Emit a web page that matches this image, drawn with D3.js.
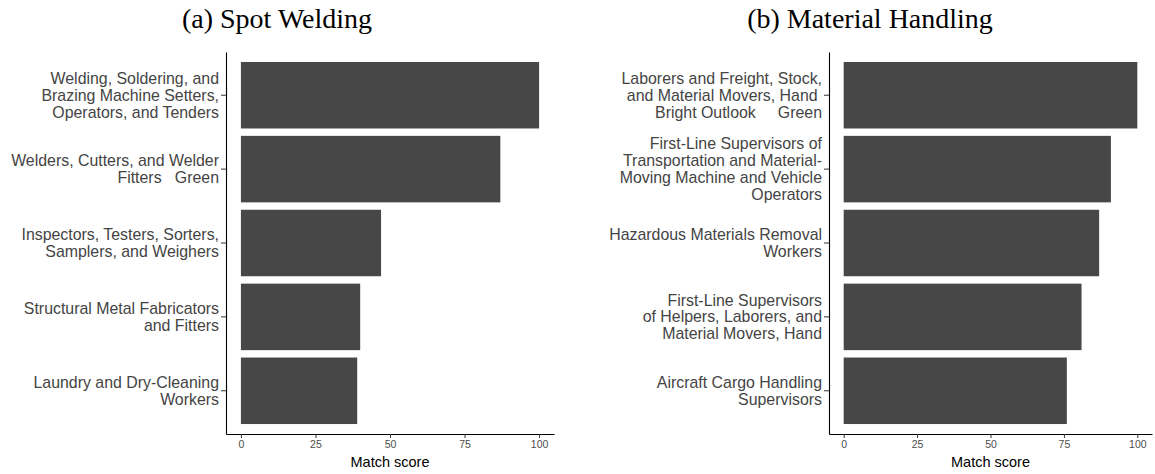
<!DOCTYPE html>
<html>
<head>
<meta charset="utf-8">
<script src="https://cdn.jsdelivr.net/npm/d3@7"></script>
<style>
  body { margin: 0; background: #fff; }
  svg { display: block; }
</style>
</head>
<body>
<div id="chart"></div>
<script>
// data: job titles (line breaks kept as in the picture) and match scores
var weldingJobs = [
    "Welding, Soldering, and\nBrazing Machine Setters,\nOperators, and Tenders",
    "Welders, Cutters, and Welder\nFitters   Green",
    "Inspectors, Testers, Sorters,\nSamplers, and Weighers",
    "Structural Metal Fabricators\nand Fitters",
    "Laundry and Dry-Cleaning\nWorkers"
]
var weldingScores = [100, 87, 47, 40, 39]

var handlingJobs = [
    "Laborers and Freight, Stock,\nand Material Movers, Hand \nBright Outlook     Green",
    "First-Line Supervisors of\nTransportation and Material-\nMoving Machine and Vehicle\nOperators",
    "Hazardous Materials Removal\nWorkers",
    "First-Line Supervisors\nof Helpers, Laborers, and\nMaterial Movers, Hand",
    "Aircraft Cargo Handling\nSupervisors"
]
var handlingScores = [100, 91, 87, 81, 76]

var scoreTicks = [0, 25, 50, 75, 100]
var titles = ["(a) Spot Welding", "(b) Material Handling"]

var W = 1155, H = 474

var svg = d3.select("#chart")
    .append("svg")
        .attr("width", W)
        .attr("height", H)

svg.append("rect").attr("width", W).attr("height", H).attr("fill", "#fff")

function drawPanel(jobs, scores, title, left, right, titleX) {
    var top = 52, bottom = 434

    // title
    svg.append("text")
        .attr("x", titleX)
        .attr("y", 28)
        .attr("text-anchor", "middle")
        .attr("font-family", "'Liberation Serif', 'DejaVu Serif', serif")
        .attr("font-size", "28px")
        .attr("fill", "#000")
        .text(title)

    var x = d3.scaleLinear()
        .domain([-5, 105])
        .range([left, right])

    var y = d3.scaleBand()
        .domain(jobs)
        .range([top, bottom])
        .paddingInner(0.1)
        .paddingOuter(0.135)

    // bars
    svg.append("g").selectAll("rect")
        .data(jobs)
        .enter()
        .append("rect")
            .attr("x", x(0))
            .attr("y", function(d) { return y(d) })
            .attr("width", function(d, i) { return x(scores[i]) - x(0) })
            .attr("height", y.bandwidth())
            .attr("fill", "#474747")

    // x axis
    var gx = svg.append("g")
        .attr("transform", "translate(0," + bottom + ")")
        .call(d3.axisBottom(x).tickValues(scoreTicks).tickSize(4).tickSizeOuter(0).tickPadding(3))
    gx.select(".domain").attr("stroke", "#000").attr("stroke-width", 1.1)
    gx.selectAll(".tick line").attr("stroke", "#333")
    gx.selectAll(".tick text")
        .attr("fill", "#4d4d4d")
        .attr("font-family", "'Liberation Sans', Arial, sans-serif")
        .attr("font-size", "10.5px")

    // x axis title
    svg.append("text")
        .attr("x", (x(0) + x(100)) / 2)
        .attr("y", 467)
        .attr("text-anchor", "middle")
        .attr("font-family", "'Liberation Sans', Arial, sans-serif")
        .attr("font-size", "14.5px")
        .attr("fill", "#000")
        .text("Match score")

    // y axis with multi-line labels
    var gy = svg.append("g")
        .attr("transform", "translate(" + left + ",0)")
        .call(d3.axisLeft(y).tickSize(5).tickSizeOuter(0).tickPadding(2))
    gy.select(".domain").attr("stroke", "#000").attr("stroke-width", 1.1)
    gy.selectAll(".tick line").attr("stroke", "#333")

    var lineH = 16.8
    gy.selectAll(".tick text")
        .attr("fill", "#444")
        .attr("font-family", "'Liberation Sans', Arial, sans-serif")
        .attr("font-size", "15.9px")
        .attr("dy", null)
        .attr("xml:space", "preserve")
        .style("white-space", "pre")
        .each(function(d) {
            var t = d3.select(this)
            var lines = d.split("\n")
            t.text(null)
            lines.forEach(function(line, i) {
                t.append("tspan")
                    .attr("x", -7)
                    .attr("y", (i - (lines.length - 1) / 2) * lineH)
                    .attr("dy", "0.35em")
                    .text(line)
            })
        })
}

drawPanel(weldingJobs, weldingScores, titles[0], 226, 554, 277)
drawPanel(handlingJobs, handlingScores, titles[1], 829, 1152, 870)
</script>
</body>
</html>
